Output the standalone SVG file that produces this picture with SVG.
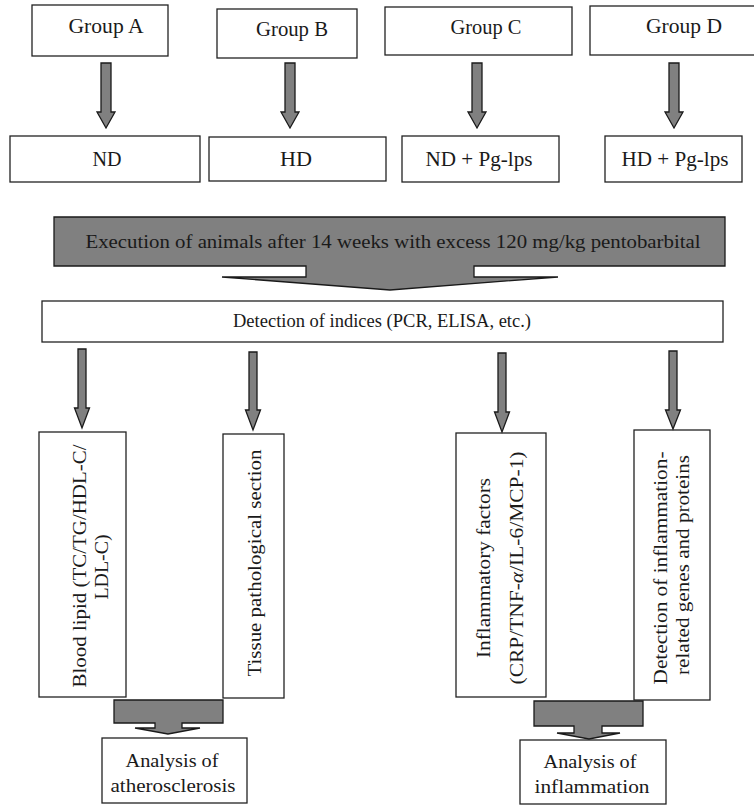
<svg xmlns="http://www.w3.org/2000/svg" width="754" height="805" viewBox="0 0 754 805">
<style>
.box{fill:#fff;stroke:#222;stroke-width:1.3}
.gray{fill:#808080;stroke:#1a1a1a;stroke-width:1.3;stroke-linejoin:miter}
text{font-family:"Liberation Serif","Times New Roman",serif;font-size:19px;fill:#1a1a1a;text-anchor:middle}
.big{font-size:20px}
</style>
<rect width="754" height="805" fill="#fff"/>
<g id="groupA"><rect class="box" x="32" y="5" width="136" height="51"/><text class="big" x="106" y="33" textLength="75" lengthAdjust="spacingAndGlyphs">Group A</text></g>
<g id="groupB"><rect class="box" x="217" y="9" width="140" height="49"/><text class="big" x="292" y="36" textLength="72" lengthAdjust="spacingAndGlyphs">Group B</text></g>
<g id="groupC"><rect class="box" x="385" y="7" width="187" height="48"/><text class="big" x="486" y="34" textLength="71" lengthAdjust="spacingAndGlyphs">Group C</text></g>
<g id="groupD"><rect class="box" x="590" y="6" width="170" height="49"/><text class="big" x="684" y="33" textLength="76" lengthAdjust="spacingAndGlyphs">Group D</text></g>
<g id="nd"><rect class="box" x="10" y="136" width="190" height="46"/><text class="big" x="107" y="166" textLength="29" lengthAdjust="spacingAndGlyphs">ND</text></g>
<g id="hd"><rect class="box" x="209" y="137" width="177" height="44"/><text class="big" x="296" y="166" textLength="32" lengthAdjust="spacingAndGlyphs">HD</text></g>
<g id="ndpg"><rect class="box" x="402" y="136" width="157" height="46"/><text class="big" x="479" y="166" textLength="107" lengthAdjust="spacingAndGlyphs">ND + Pg-lps</text></g>
<g id="hdpg"><rect class="box" x="605" y="136" width="137" height="46"/><text class="big" x="675" y="166" textLength="107" lengthAdjust="spacingAndGlyphs">HD + Pg-lps</text></g>
<g id="execution">
<polygon class="gray" points="54,217 725,217 725,266 474,266 474,277 558,277 390,290 222,277 306,277 306,266 54,266"/>
<text x="393" y="248" textLength="615" lengthAdjust="spacingAndGlyphs">Execution of animals after 14 weeks with excess 120 mg/kg pentobarbital</text>
</g>
<g id="detection"><rect class="box" x="42" y="301" width="681" height="41"/><text x="382" y="327" textLength="298" lengthAdjust="spacingAndGlyphs">Detection of indices (PCR, ELISA, etc.)</text></g>
<g id="bloodlipid"><rect class="box" x="39" y="432" width="87" height="265"/>
<text transform="translate(86,566) rotate(-90)" textLength="243" lengthAdjust="spacingAndGlyphs">Blood lipid (TC/TG/HDL-C/</text>
<text transform="translate(108,567) rotate(-90)" textLength="65" lengthAdjust="spacingAndGlyphs">LDL-C)</text></g>
<g id="tissue"><rect class="box" x="223" y="434" width="61" height="264"/>
<text transform="translate(261,563) rotate(-90)" textLength="227" lengthAdjust="spacingAndGlyphs">Tissue pathological section</text></g>
<g id="inflamfactors"><rect class="box" x="456" y="433" width="90" height="264"/>
<text transform="translate(490,568) rotate(-90)" textLength="180" lengthAdjust="spacingAndGlyphs">Inflammatory factors</text>
<text transform="translate(523,568) rotate(-90)" textLength="233" lengthAdjust="spacingAndGlyphs">(CRP/TNF-<tspan font-style="italic">α</tspan>/IL-6/MCP-1)</text></g>
<g id="inflamgenes"><rect class="box" x="634" y="430" width="76" height="270"/>
<text transform="translate(667,568) rotate(-90)" textLength="233" lengthAdjust="spacingAndGlyphs">Detection of inflammation-</text>
<text transform="translate(689,565) rotate(-90)" textLength="220" lengthAdjust="spacingAndGlyphs">related genes and proteins</text></g>
<g id="athero"><rect class="box" x="102" y="738" width="145" height="65"/>
<text x="172" y="767" textLength="93" lengthAdjust="spacingAndGlyphs">Analysis of</text><text x="173" y="792" textLength="125" lengthAdjust="spacingAndGlyphs">atherosclerosis</text></g>
<g id="inflam"><rect class="box" x="520" y="740" width="146" height="64"/>
<text x="590" y="768" textLength="93" lengthAdjust="spacingAndGlyphs">Analysis of</text><text x="592" y="793" textLength="115" lengthAdjust="spacingAndGlyphs">inflammation</text></g>
<g id="connectors">
<polygon class="gray" points="101,63 111,63 111,112 115,112 106,128 97,112 101,112"/>
<polygon class="gray" points="285,63 295,63 295,112 299,112 290,128 281,112 285,112"/>
<polygon class="gray" points="472,63 482,63 482,112 486,112 477,128 468,112 472,112"/>
<polygon class="gray" points="669,63 679,63 679,112 683,112 674,128 665,112 669,112"/>
<polygon class="gray" points="78,349 86,349 86,408 89.5,408 82,428 74.5,408 78,408"/>
<polygon class="gray" points="249,352 257,352 257,410 260.5,410 253,430 245.5,410 249,410"/>
<polygon class="gray" points="498,353 506,353 506,412 509.5,412 502,432 494.5,412 498,412"/>
<polygon class="gray" points="669,351 677,351 677,410 680.5,410 673,429 665.5,410 669,410"/>
<polygon class="gray" points="114,700 223,700 223,723 182,723 182,728 200,728 168,734 135,728 155,728 155,723 114,723"/>
<polygon class="gray" points="534,701 643,701 643,726 602,726 602,733 620,733 589,739 557,733 574,733 574,726 534,726"/>
</g>
</svg>
